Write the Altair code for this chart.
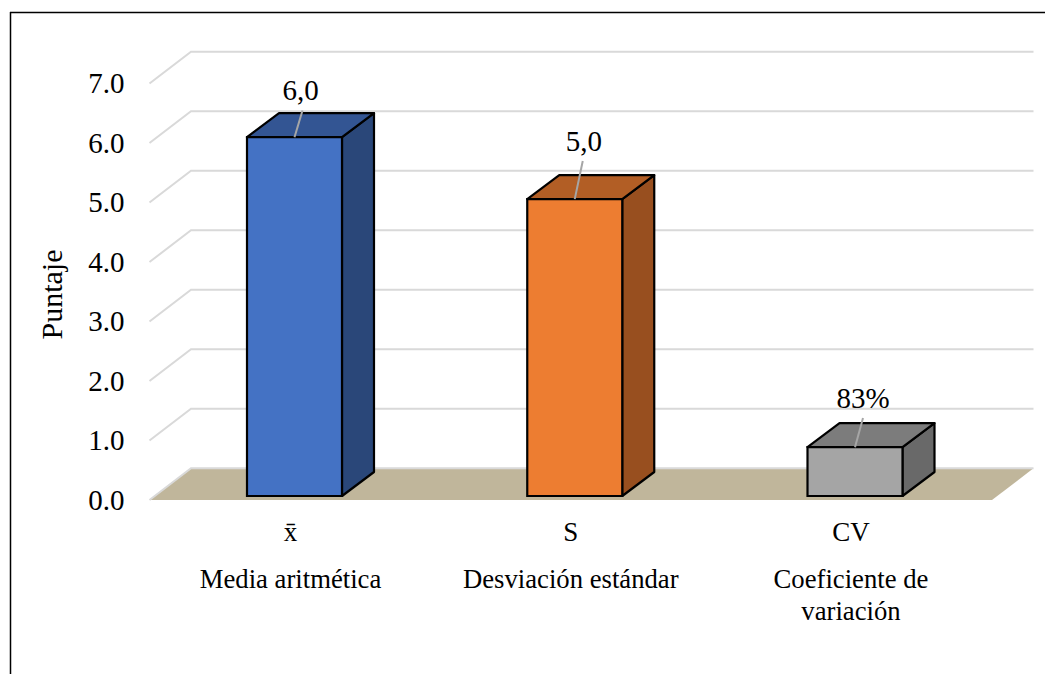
import altair as alt
import pandas as pd

symbols = ["x\u0304", "S", "CV"]
names = ["Media aritmética", "Desviación estándar", "Coeficiente de\nvariación"]
values = [6.03, 4.99, 0.82]
labels = ["6,0", "5,0", "83%"]
leader_len = [0.45, 0.64, 0.49]
label_shift = [6.0, 9.0, 8.0]
front = ["#4472C4", "#ED7D31", "#A5A5A5"]
top = ["#335593", "#B25E25", "#7C7C7C"]
side = ["#2A4779", "#984F1F", "#696969"]
ticks = [0, 1, 2, 3, 4, 5, 6, 7]

W, H = 1037, 666
UX = 280.25   # px per category
UY = 59.5     # px per unit of score
px = lambda p: p / UX
py = lambda p: p / UY
x_dom = [(8 - 294.5) / UX, (8 + W - 294.5) / UX]
y_dom = [(500 - (8 + H)) / UY, (500 - 8) / UY]
xs = alt.Scale(domain=x_dom, range=[0, W], nice=False, zero=False)
ys = alt.Scale(domain=y_dom, range=[H, 0], nice=False, zero=False)
FAMILY = "Liberation Serif"
AX = alt.Axis(
    values=ticks, format=".1f", offset=-116, domain=False, ticks=False, grid=False,
    labelFont=FAMILY, labelFontSize=29, labelColor="#000000", labelPadding=0,
    titleFont=FAMILY, titleFontSize=30, titleFontWeight="normal", titleColor="#000000",
    titleX=-56.5, titleY=286)
X = alt.X("x:Q", scale=xs, axis=None)
Y = alt.Y("y:Q", scale=ys, axis=AX, stack=None, title="Puntaje")

# walls / floor projection
wall_dx, wall_dy = px(41.5), py(31.7)
left, right = px(149.5 - 294.5), px(992 - 294.5)
floor = pd.DataFrame({
    "x": [left, left + wall_dx, right, right + wall_dx],
    "y": [0, 0, 0, wall_dy],
    "y2": [0, wall_dy, wall_dy, wall_dy],
})
floor_layer = alt.Chart(floor).mark_area(color="#C0B69B").encode(x=X, y=Y, y2="y2:Q")

grid_rows = []
for t in ticks:
    grid_rows += [
        {"t": t, "i": 0, "x": left, "y": t},
        {"t": t, "i": 1, "x": left + wall_dx, "y": t + wall_dy},
        {"t": t, "i": 2, "x": right + wall_dx, "y": t + wall_dy},
    ]
grid = alt.Chart(pd.DataFrame(grid_rows)).mark_line(color="#D9D9D9", strokeWidth=2).encode(
    x=X, y=Y, detail="t:N", order="i:Q")

# bars
half, dx, dy, base = px(47.5), px(32), py(24), py(4)
face_layers = []
for i, v in enumerate(values):
    L, R, T = i - half, i + half, base + v
    top_df = pd.DataFrame({"x": [L, L + dx, R, R + dx], "y": [T, T, T, T + dy],
                           "y2": [T, T + dy, T + dy, T + dy]})
    side_df = pd.DataFrame({"x": [R, R + dx], "y": [base, base + dy], "y2": [T, T + dy]})
    front_df = pd.DataFrame({"x": [L], "x2": [R], "y": [base], "y2": [T]})
    face_layers += [
        alt.Chart(side_df).mark_area(color=side[i], stroke="#000000", strokeWidth=2.2,
                                     strokeJoin="round").encode(x=X, y=Y, y2="y2:Q"),
        alt.Chart(top_df).mark_area(color=top[i], stroke="#000000", strokeWidth=2.2,
                                    strokeJoin="round").encode(x=X, y=Y, y2="y2:Q"),
        alt.Chart(front_df).mark_rect(color=front[i], stroke="#000000", strokeWidth=2.2).encode(
            x=X, x2="x2:Q", y=Y, y2="y2:Q"),
    ]

# leader lines + data labels
lead_rows, label_rows = [], []
for i, v in enumerate(values):
    T = base + v
    lead_rows += [{"b": i, "n": 0, "x": i, "y": T},
                  {"b": i, "n": 1, "x": i + px(8), "y": T + leader_len[i]}]
    label_rows.append({"x": i + px(label_shift[i]), "y": T + leader_len[i] + py(10), "t": labels[i]})
leaders = alt.Chart(pd.DataFrame(lead_rows)).mark_line(color="#A6A6A6", strokeWidth=2).encode(
    x=X, y=Y, detail="b:N", order="n:Q")
data_labels = alt.Chart(pd.DataFrame(label_rows)).mark_text(
    font=FAMILY, fontSize=29, color="#000000", baseline="alphabetic", align="center"
).encode(x=X, y=Y, text="t:N")

# category rows
cat_x = [i - px(4) for i in range(3)]
row1 = alt.Chart(pd.DataFrame({"x": cat_x, "y": [py(500 - 541)] * 3, "t": symbols})).mark_text(
    font=FAMILY, fontSize=27, color="#000000", baseline="alphabetic", align="center"
).encode(x=X, y=Y, text="t:N")
row2 = alt.Chart(pd.DataFrame({"x": cat_x, "y": [py(500 - 588)] * 3, "t": names})).mark_text(
    font=FAMILY, fontSize=26.7, color="#000000", baseline="alphabetic", align="center",
    lineBreak="\n", lineHeight=31.5
).encode(x=X, y=Y, text="t:N")

# frame lines of the picture
frame_left = alt.Chart(pd.DataFrame({"y": [y_dom[1] - py(4)], "y2": [y_dom[0]]})).mark_rule(
    color="#000000", strokeWidth=1.5).encode(x=alt.value(2.5), y=Y, y2="y2:Q")
frame_top = alt.Chart(pd.DataFrame({"y": [y_dom[1] - py(4.5)]})).mark_rule(
    color="#000000", strokeWidth=1.5).encode(y=Y, x=alt.value(2), x2=alt.value(W))

chart = alt.layer(
    floor_layer, grid, *face_layers, leaders, data_labels, row1, row2,
    frame_left, frame_top
).properties(
    width=W, height=H, padding=0, background="#FFFFFF",
    autosize=alt.AutoSizeParams(type="none"),
).configure_view(stroke=None)

chart.save("out.html", embed_options={"renderer": "svg", "actions": False})
